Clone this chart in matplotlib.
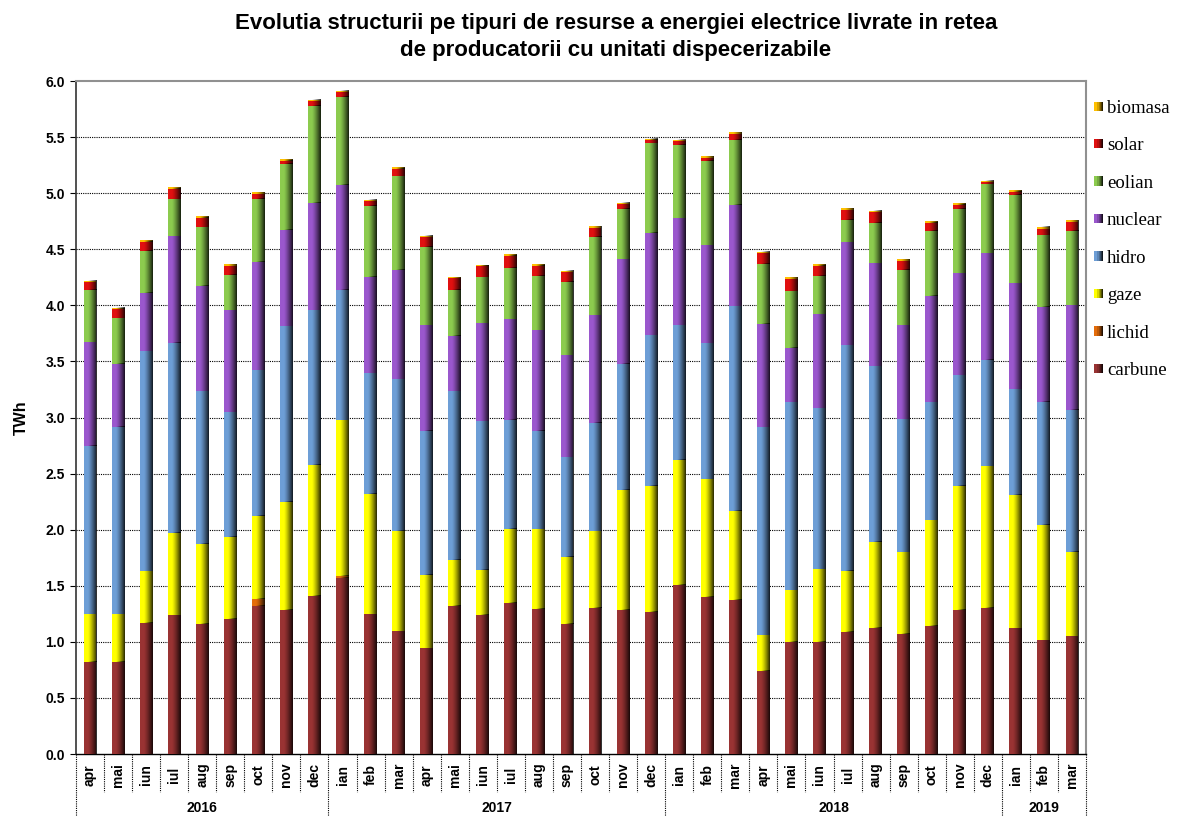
import numpy as np
import matplotlib
matplotlib.use('Agg')
import matplotlib.pyplot as plt
from matplotlib.patches import Rectangle, Patch
from matplotlib.legend_handler import HandlerBase
from matplotlib.colors import to_rgb

# ---------------- data ----------------
months = ['apr', 'mai', 'iun', 'iul', 'aug', 'sep', 'oct', 'nov', 'dec',
          'ian', 'feb', 'mar', 'apr', 'mai', 'iun', 'iul', 'aug', 'sep', 'oct', 'nov', 'dec',
          'ian', 'feb', 'mar', 'apr', 'mai', 'iun', 'iul', 'aug', 'sep', 'oct', 'nov', 'dec',
          'ian', 'feb', 'mar']
years = ['2016', '2017', '2018', '2019']
year_counts = [9, 12, 12, 3]

carbune = [0.817, 0.817, 1.168, 1.236, 1.160, 1.204, 1.320, 1.284, 1.411,
           1.571, 1.248, 1.096, 0.945, 1.320, 1.240, 1.348, 1.296, 1.160, 1.304, 1.284, 1.268,
           1.503, 1.404, 1.372, 0.742, 1.001, 1.001, 1.089, 1.120, 1.073, 1.144, 1.284, 1.304,
           1.120, 1.013, 1.049]
lichid = [0.005, 0.005, 0.0, 0.0, 0.0, 0.0, 0.064, 0.0, 0.0,
          0.020, 0.0, 0.0, 0.0, 0.0, 0.0, 0.0, 0.0, 0.0, 0.0, 0.0, 0.0,
          0.005, 0.0, 0.003, 0.0, 0.0, 0.0, 0.0, 0.005, 0.0, 0.0, 0.0, 0.0,
          0.0, 0.0, 0.0]
gaze = [0.426, 0.426, 0.463, 0.738, 0.714, 0.734, 0.741, 0.965, 1.169,
        1.383, 1.073, 0.894, 0.654, 0.414, 0.403, 0.662, 0.706, 0.598, 0.686, 1.072, 1.124,
        1.116, 1.052, 0.794, 0.319, 0.462, 0.650, 0.546, 0.769, 0.729, 0.945, 1.108, 1.260,
        1.189, 1.028, 0.749]
hidro = [1.499, 1.671, 1.958, 1.694, 1.360, 1.108, 1.296, 1.563, 1.375,
         1.161, 1.072, 1.351, 1.284, 1.500, 1.324, 0.972, 0.881, 0.886, 0.965, 1.125, 1.340,
         1.200, 1.212, 1.822, 1.850, 1.671, 1.431, 2.009, 1.563, 1.184, 1.045, 0.985, 0.953,
         0.945, 1.097, 1.268]
nuclear = [0.925, 0.562, 0.518, 0.949, 0.937, 0.909, 0.965, 0.857, 0.957,
           0.937, 0.857, 0.973, 0.941, 0.494, 0.873, 0.894, 0.893, 0.909, 0.956, 0.929, 0.913,
           0.953, 0.869, 0.901, 0.921, 0.490, 0.837, 0.917, 0.917, 0.838, 0.949, 0.909, 0.953,
           0.945, 0.849, 0.934]
eolian = [0.467, 0.403, 0.379, 0.327, 0.526, 0.319, 0.566, 0.590, 0.869,
          0.789, 0.634, 0.838, 0.698, 0.411, 0.410, 0.458, 0.482, 0.658, 0.702, 0.450, 0.798,
          0.654, 0.754, 0.586, 0.538, 0.507, 0.343, 0.204, 0.359, 0.494, 0.582, 0.574, 0.610,
          0.785, 0.638, 0.665]
solar = [0.066, 0.083, 0.083, 0.096, 0.084, 0.080, 0.040, 0.032, 0.040,
         0.040, 0.044, 0.067, 0.083, 0.103, 0.100, 0.108, 0.096, 0.083, 0.080, 0.040, 0.029,
         0.032, 0.020, 0.048, 0.096, 0.103, 0.092, 0.087, 0.096, 0.076, 0.072, 0.036, 0.016,
         0.028, 0.052, 0.080]
biomasa = [0.015, 0.013, 0.011, 0.016, 0.016, 0.012, 0.016, 0.012, 0.012,
           0.012, 0.012, 0.012, 0.016, 0.008, 0.008, 0.016, 0.016, 0.016, 0.012, 0.012, 0.014,
           0.015, 0.016, 0.016, 0.012, 0.016, 0.012, 0.016, 0.011, 0.016, 0.016, 0.016, 0.012,
           0.016, 0.020, 0.016]

series_names = ['carbune', 'lichid', 'gaze', 'hidro', 'nuclear', 'eolian', 'solar', 'biomasa']
series_vals = [carbune, lichid, gaze, hidro, nuclear, eolian, solar, biomasa]
colors = {
    'carbune': '#993333',
    'lichid': '#E46C0A',
    'gaze': '#FFFF00',
    'hidro': '#6D9ED6',
    'nuclear': '#9A57CD',
    'eolian': '#8CCB4E',
    'solar': '#E01010',
    'biomasa': '#FFC000',
}

# ---------------- figure ----------------
W, H = 1182, 816
fig = plt.figure(figsize=(W / 100, H / 100), dpi=100)
L, R, T, B = 76, 1086, 81, 754
ax = fig.add_axes([L / W, (H - B) / H, (R - L) / W, (B - T) / H])

n = len(months)
x = np.arange(n) + 0.5
bottom = np.zeros(n)

# horizontal shading ramp (dark at right edge)
t = np.linspace(0, 1, 64)
grad = np.zeros((1, 64, 4))
grad[..., 3] = np.clip((t - 0.30) / 0.70, 0, 1) ** 1.3 * 0.85

for name, vals in zip(series_names, series_vals):
    vals = np.asarray(vals)
    bars = ax.bar(x, vals, width=0.46, bottom=bottom, color=colors[name],
                  linewidth=0, zorder=3)
    for r in bars:
        h = r.get_height()
        if h <= 0:
            continue
        x0, y0, w = r.get_x(), r.get_y(), r.get_width()
        ax.imshow(grad, extent=(x0, x0 + w, y0, y0 + h), aspect='auto',
                  interpolation='bilinear', zorder=3.5)
    bottom += vals

ax.set_xlim(0, n)
ax.set_ylim(0, 6.0)
ax.set_aspect('auto')

# grid
for yv in np.arange(0.5, 6.0, 0.5):
    ax.axhline(yv, color='black', lw=0.8, ls=(0, (1, 1)), zorder=1)

# spines
ax.spines['top'].set_color('#909090')
ax.spines['right'].set_color('#909090')
ax.spines['top'].set_linewidth(1.5)
ax.spines['right'].set_linewidth(1.5)
ax.spines['left'].set_color('#333333')
ax.spines['left'].set_linewidth(1.2)
ax.spines['bottom'].set_color('black')
ax.spines['bottom'].set_linewidth(1.0)

# y axis
yt = np.arange(0, 6.01, 0.5)
ax.set_yticks(yt)
ax.set_yticklabels([f'{v:.1f}' for v in yt], fontsize=10, fontweight='bold',
                   family='Liberation Sans')
ax.tick_params(axis='y', length=4, width=0.8, direction='out', pad=4)
ax.set_xticks([])
ax.set_ylabel('TWh', fontsize=11.5, fontweight='bold', family='Liberation Sans',
              labelpad=12)

# x category labels & separators
ah = B - T
month_sep = -(792 - B) / ah
year_sep = -(H - B + 2) / ah
trans = ax.get_xaxis_transform()
year_bounds = np.cumsum([0] + year_counts)
for b in range(n + 1):
    yb = year_sep if b in year_bounds else month_sep
    ax.plot([b, b], [0, yb], transform=trans, color='black', lw=0.8,
            ls=(0, (1, 1)), clip_on=False, zorder=2)
for i, m in enumerate(months):
    ax.text(i + 0.5, -(775 - B) / ah, m, transform=trans, rotation=90,
            ha='center', va='center', fontsize=10, fontweight='bold',
            family='Liberation Sans')
for yi, yr in enumerate(years):
    c = (year_bounds[yi] + year_bounds[yi + 1]) / 2
    ax.text(c, -(808 - B) / ah, yr, transform=trans, ha='center', va='center',
            fontsize=10, fontweight='bold', family='Liberation Sans')

# title
fig.text(616 / W, 1 - 37 / H,
         'Evolutia structurii pe tipuri de resurse a energiei electrice livrate in retea\n'
         'de producatorii cu unitati dispecerizabile',
         ha='center', va='center', fontsize=16, fontweight='bold',
         family='Liberation Sans', linespacing=1.35)


# legend with shaded squares
class GradHandler(HandlerBase):
    def create_artists(self, legend, orig_handle, xdescent, ydescent, width,
                       height, fontsize, trans):
        base = np.array(to_rgb(orig_handle.get_facecolor()))
        k = 8
        side = min(width, height)
        arts = []
        for j in range(k):
            f = j / (k - 1)
            dark = 1 - 0.85 * max(0, (f - 0.3) / 0.7)
            col = base * dark
            arts.append(Rectangle((-xdescent + side * j / k, -ydescent + (height - side) / 2),
                                  side / k, side, facecolor=col, edgecolor='none',
                                  transform=trans))
        return arts


handles = [Patch(facecolor=colors[nm], label=nm) for nm in series_names[::-1]]
fig.legend(handles=handles, loc='upper left', bbox_to_anchor=(1077 / W, 1 - 83 / H),
           frameon=False, prop={'family': 'Liberation Serif', 'size': 13.5},
           handlelength=0.5, handleheight=0.5, handletextpad=0.2, labelspacing=1.09,
           handler_map={Patch: GradHandler()})

fig.savefig('out.png', dpi=100)
